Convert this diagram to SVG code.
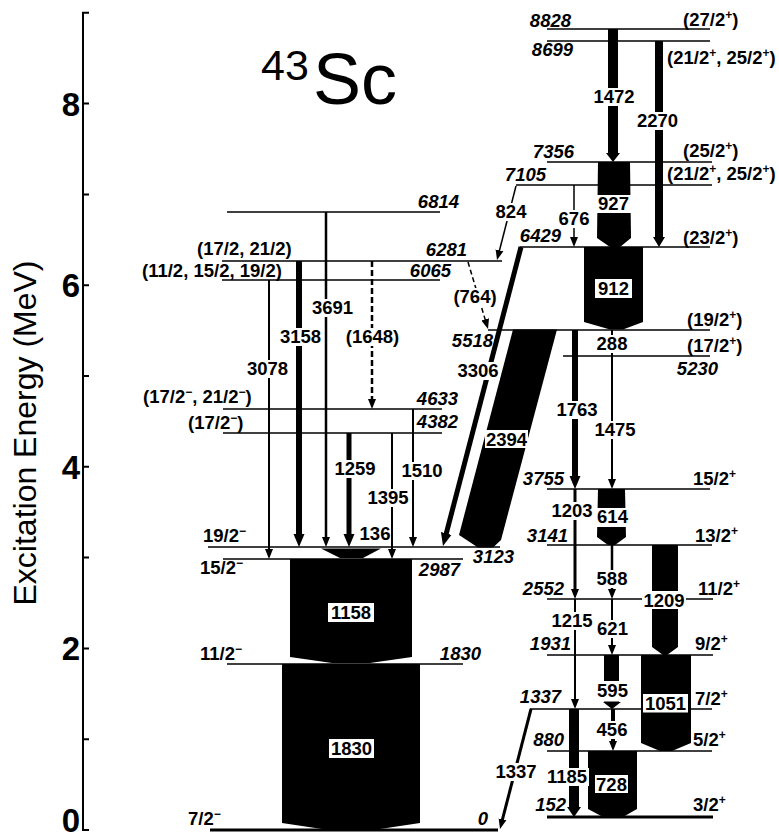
<svg xmlns="http://www.w3.org/2000/svg" width="779" height="840" viewBox="0 0 779 840">
<style>
text{font-family:"Liberation Sans",Arial,Helvetica,sans-serif;font-size:18.5px;font-weight:bold;fill:#000}
.en{font-style:italic;text-anchor:end}
.m{text-anchor:middle}
.sup{font-size:12px}
.lv{stroke:#000;stroke-width:1.5}
.lt{stroke:#000;stroke-width:3}
.t{stroke:#000;fill:none}
.s{marker-end:url(#a)}
.b{marker-end:url(#A)}
.d{stroke-dasharray:6 3}
.bg{fill:#fff}
.band{fill:#000}
.ax{stroke:#000;stroke-width:2;fill:none}
.tk{font-size:33px;text-anchor:end}
.reg{font-weight:normal}
</style>
<defs>
<marker id="a" markerUnits="userSpaceOnUse" viewBox="0 -5 10 10" refX="4" refY="0" markerWidth="10" markerHeight="10" orient="auto"><path d="M0,-4L10,0L0,4z"/></marker>
<marker id="A" markerUnits="userSpaceOnUse" viewBox="0 -6 13 12" refX="5" refY="0" markerWidth="13" markerHeight="12" orient="auto"><path d="M0,-5.5L13,0L0,5.5z"/></marker>
</defs>
<rect width="779" height="840" fill="#fff"/>
<g id="axis">
<path class="ax" d="M89,12.8H83V830H89"/>
<path class="ax" d="M83,739.2H89M83,648.4H89M83,557.6H89M83,466.8H89M83,376H89M83,285.2H89M83,194.4H89M83,103.6H89"/>
<text class="tk" x="80" y="832">0</text>
<text class="tk" x="80" y="660">2</text>
<text class="tk" x="80" y="479">4</text>
<text class="tk" x="80" y="297">6</text>
<text class="tk" x="80" y="116">8</text>
<text transform="translate(36,433) rotate(-90)" class="m reg" style="font-size:32px">Excitation Energy (MeV)</text>
</g>
<g id="title">
<text class="reg" x="261" y="80" style="font-size:43px">43</text>
<text class="reg" x="313" y="104" style="font-size:72px">Sc</text>
</g>
<g id="levels">
<g id="lvl-0"><line class="lt" x1="210" y1="830" x2="498" y2="830"/><text x="188" y="825">7/2<tspan class="sup" dy="-7">−</tspan></text><text class="en" x="488" y="825">0</text></g>
<g id="lvl-1830"><line class="lv" x1="227" y1="664" x2="463" y2="664"/><text x="200" y="660">11/2<tspan class="sup" dy="-7">−</tspan></text><text class="en" x="481" y="660">1830</text></g>
<g id="lvl-2987"><line class="lv" x1="223" y1="559" x2="463" y2="559"/><text x="200" y="574">15/2<tspan class="sup" dy="-7">−</tspan></text><text class="en" x="460" y="576">2987</text></g>
<g id="lvl-3123"><line class="lv" x1="208" y1="547" x2="500" y2="547"/><text x="203" y="542">19/2<tspan class="sup" dy="-7">−</tspan></text><text class="en" x="514" y="563">3123</text></g>
<g id="lvl-4382"><line class="lv" x1="223" y1="433" x2="442" y2="433"/><text x="188" y="429">(17/2<tspan class="sup" dy="-7">−</tspan><tspan dy="7">)</tspan></text><text class="en" x="458" y="428">4382</text></g>
<g id="lvl-4633"><line class="lv" x1="223" y1="409" x2="442" y2="409"/><text x="143" y="403">(17/2<tspan class="sup" dy="-7">−</tspan><tspan dy="7">, 21/2</tspan><tspan class="sup" dy="-7">−</tspan><tspan dy="7">)</tspan></text><text class="en" x="458" y="405">4633</text></g>
<g id="lvl-6065"><line class="lv" x1="222" y1="280" x2="440" y2="280"/><text x="142" y="277">(11/2, 15/2, 19/2)</text><text class="en" x="451" y="277">6065</text></g>
<g id="lvl-6281"><line class="lv" x1="222" y1="261" x2="502" y2="261"/><text x="197" y="255">(17/2, 21/2)</text><text class="en" x="467" y="256">6281</text></g>
<g id="lvl-6814"><line class="lv" x1="227" y1="212" x2="440" y2="212"/><text class="en" x="459" y="208">6814</text></g>
<g id="lvl-8828"><line class="lv" x1="547" y1="29" x2="710" y2="29"/><text class="en" x="571" y="27">8828</text><text x="683" y="26">(27/2<tspan class="sup" dy="-7">+</tspan><tspan dy="7">)</tspan></text></g>
<g id="lvl-8699"><line class="lv" x1="547" y1="41" x2="710" y2="41"/><text class="en" x="573" y="56">8699</text><text x="667" y="64">(21/2<tspan class="sup" dy="-7">+</tspan><tspan dy="7">, 25/2</tspan><tspan class="sup" dy="-7">+</tspan><tspan dy="7">)</tspan></text></g>
<g id="lvl-7356"><line class="lv" x1="547" y1="162" x2="712" y2="162"/><text class="en" x="574" y="158">7356</text><text x="683" y="157">(25/2<tspan class="sup" dy="-7">+</tspan><tspan dy="7">)</tspan></text></g>
<g id="lvl-7105"><line class="lv" x1="516" y1="185" x2="712" y2="185"/><text class="en" x="546" y="181">7105</text><text x="667" y="180">(21/2<tspan class="sup" dy="-7">+</tspan><tspan dy="7">, 25/2</tspan><tspan class="sup" dy="-7">+</tspan><tspan dy="7">)</tspan></text></g>
<g id="lvl-6429"><line class="lv" x1="520" y1="247" x2="710" y2="247"/><text class="en" x="561" y="242">6429</text><text x="683" y="244">(23/2<tspan class="sup" dy="-7">+</tspan><tspan dy="7">)</tspan></text></g>
<g id="lvl-5518"><line class="lv" x1="488" y1="330" x2="710" y2="330"/><text class="en" x="493" y="347">5518</text><text x="687" y="326">(19/2<tspan class="sup" dy="-7">+</tspan><tspan dy="7">)</tspan></text></g>
<g id="lvl-5230"><line class="lv" x1="563" y1="356" x2="710" y2="356"/><text x="687" y="352">(17/2<tspan class="sup" dy="-7">+</tspan><tspan dy="7">)</tspan></text><text class="en" x="718" y="375">5230</text></g>
<g id="lvl-3755"><line class="lv" x1="547" y1="489" x2="710" y2="489"/><text class="en" x="564" y="485">3755</text><text x="693" y="485">15/2<tspan class="sup" dy="-7">+</tspan></text></g>
<g id="lvl-3141"><line class="lv" x1="547" y1="545" x2="712" y2="545"/><text class="en" x="568" y="542">3141</text><text x="695" y="542">13/2<tspan class="sup" dy="-7">+</tspan></text></g>
<g id="lvl-2552"><line class="lv" x1="547" y1="599" x2="713" y2="599"/><text class="en" x="564" y="595">2552</text><text x="698" y="595">11/2<tspan class="sup" dy="-7">+</tspan></text></g>
<g id="lvl-1931"><line class="lv" x1="547" y1="655" x2="713" y2="655"/><text class="en" x="571" y="650">1931</text><text x="695" y="650">9/2<tspan class="sup" dy="-7">+</tspan></text></g>
<g id="lvl-1337"><line class="lv" x1="530" y1="709" x2="712" y2="709"/><text class="en" x="561" y="703">1337</text><text x="695" y="705">7/2<tspan class="sup" dy="-7">+</tspan></text></g>
<g id="lvl-880"><line class="lv" x1="547" y1="751" x2="712" y2="751"/><text class="en" x="564" y="746">880</text><text x="693" y="746">5/2<tspan class="sup" dy="-7">+</tspan></text></g>
<g id="lvl-152"><line class="lt" x1="547" y1="817" x2="713" y2="817"/><text class="en" x="566" y="811">152</text><text x="693" y="811">3/2<tspan class="sup" dy="-7">+</tspan></text></g>
</g>
<g id="connectors">
<g id="g1830"><polygon class="band" points="282,664 420,664 420,823 380,829 322,829 282,823"/><rect class="bg" x="329" y="739" width="45" height="19"/><text class="m" x="351.5" y="755">1830</text></g>
<g id="g1158"><polygon class="band" points="290,559 412,559 412,657 370,663 332,663 290,657"/><rect class="bg" x="328" y="603" width="46" height="19"/><text class="m" x="351" y="619">1158</text></g>
<g id="g136"><polygon class="band" points="321,548.5 381,548.5 363,558 340,558"/><text class="m" x="375" y="540">136</text></g>
<g id="g2394"><polygon class="band" points="513,329.5 557,329.5 501,540 493,547.5 478,547.5 459,535"/><rect class="bg" x="485" y="430" width="43" height="18"/><text class="m" x="506.5" y="446">2394</text></g>
<g id="g3306"><line class="t b" style="stroke-width:5" x1="521" y1="247" x2="445" y2="538.3"/><rect class="bg" x="456" y="362" width="44" height="18"/><text class="m" x="478" y="377">3306</text></g>
<g id="g3078"><line class="t s" style="stroke-width:2" x1="269" y1="280" x2="269" y2="553"/><rect class="bg" x="245.5" y="360" width="44" height="18"/><text class="m" x="267.5" y="375">3078</text></g>
<g id="g3158"><line class="t b" style="stroke-width:6" x1="299" y1="261" x2="299" y2="539"/><rect class="bg" x="278.5" y="328" width="44" height="18"/><text class="m" x="300.5" y="343">3158</text></g>
<g id="g3691"><line class="t s" style="stroke-width:2.5" x1="326" y1="212" x2="326" y2="541"/><rect class="bg" x="310.5" y="299" width="44" height="18"/><text class="m" x="332.5" y="314">3691</text></g>
<g id="g1648"><line class="t s d" style="stroke-width:2.5" x1="372" y1="261" x2="372" y2="403"/><rect class="bg" x="344.5" y="328" width="56" height="18"/><text class="m" x="372.5" y="343">(1648)</text></g>
<g id="g764"><line class="t s" style="stroke-width:1.5;stroke-dasharray:5 3" x1="468" y1="262" x2="486.3" y2="323.3"/><rect class="bg" x="452" y="288" width="46" height="18"/><text class="m" x="475" y="303">(764)</text></g>
<g id="g1259"><line class="t b" style="stroke-width:5" x1="349" y1="433" x2="349" y2="539"/><rect class="bg" x="333" y="460" width="44" height="18"/><text class="m" x="355" y="475">1259</text></g>
<g id="g1395"><line class="t s" style="stroke-width:2" x1="392" y1="433" x2="392" y2="553"/><rect class="bg" x="366" y="489" width="44" height="18"/><text class="m" x="388" y="504">1395</text></g>
<g id="g1510"><line class="t s" style="stroke-width:2" x1="413" y1="409" x2="413" y2="541"/><rect class="bg" x="400" y="462" width="44" height="18"/><text class="m" x="422" y="477">1510</text></g>
<g id="g824"><line class="t s" style="stroke-width:1.5" x1="516" y1="186" x2="498.5" y2="254.2"/><rect class="bg" x="494" y="203" width="34" height="18"/><text class="m" x="511" y="218">824</text></g>
<g id="g1337"><line class="t s" style="stroke-width:3" x1="531" y1="709" x2="501.5" y2="823.2"/><rect class="bg" x="494" y="763" width="44" height="18"/><text class="m" x="516" y="778">1337</text></g>
<g id="g1472"><polygon class="band" points="608,29 618,29 618,153 620,153 613,162 606,153 608,153"/><rect class="bg" x="592" y="88" width="44" height="18"/><text class="m" x="614" y="103">1472</text></g>
<g id="g2270"><polygon class="band" points="655,41 663,41 663,237 665,237 659,247 653,237 655,237"/><rect class="bg" x="635.5" y="112" width="44" height="18"/><text class="m" x="657.5" y="127">2270</text></g>
<g id="g927"><polygon class="band" points="598,162 630,162 631,238 620,247 610,247 597,238"/><rect class="bg" x="595.5" y="195" width="37" height="18"/><text class="m" x="613.5" y="210">927</text></g>
<g id="g676"><line class="t s" style="stroke-width:1.5" x1="574" y1="185" x2="574" y2="241"/><rect class="bg" x="557" y="210" width="34" height="18"/><text class="m" x="574" y="225">676</text></g>
<g id="g912"><polygon class="band" points="584,247 643,247 643,322 623,329.5 610,329.5 584,322"/><rect class="bg" x="595" y="279" width="37" height="19"/><text class="m" x="613.5" y="295">912</text></g>
<g id="g288"><line class="t" style="stroke-width:2" x1="612" y1="330" x2="612" y2="356"/><rect class="bg" x="595" y="335" width="34" height="18"/><text class="m" x="612" y="350">288</text></g>
<g id="g1763"><line class="t b" style="stroke-width:6" x1="575" y1="330" x2="575" y2="481"/><rect class="bg" x="555" y="401" width="44" height="18"/><text class="m" x="577" y="416">1763</text></g>
<g id="g1475"><line class="t s" style="stroke-width:2" x1="612" y1="356" x2="612" y2="483"/><rect class="bg" x="593" y="421" width="44" height="18"/><text class="m" x="615" y="436">1475</text></g>
<g id="g1203"><line class="t s" style="stroke-width:3" x1="575" y1="489" x2="575" y2="593"/><rect class="bg" x="550" y="502" width="44" height="18"/><text class="m" x="572" y="517">1203</text></g>
<g id="g614"><polygon class="band" points="598,489 625,489 626,537 615,545 608,545 597,537"/><rect class="bg" x="595.5" y="508" width="34" height="19"/><text class="m" x="612.5" y="523">614</text></g>
<g id="g588"><line class="t s" style="stroke-width:2.5" x1="612" y1="545" x2="612" y2="593"/><rect class="bg" x="595" y="570" width="34" height="18"/><text class="m" x="612" y="585">588</text></g>
<g id="g1209"><polygon class="band" points="652,545 678,545 678,647 667,655 663,655 652,647"/><rect class="bg" x="642" y="591" width="44" height="18"/><text class="m" x="664" y="607">1209</text></g>
<g id="g1215"><line class="t s" style="stroke-width:2" x1="575" y1="599" x2="575" y2="703"/><rect class="bg" x="550" y="612" width="44" height="18"/><text class="m" x="572" y="627">1215</text></g>
<g id="g621"><line class="t s" style="stroke-width:2" x1="612" y1="599" x2="612" y2="649"/><rect class="bg" x="595.5" y="620" width="34" height="18"/><text class="m" x="612.5" y="635">621</text></g>
<g id="g595"><polygon class="band" points="604,655 619,655 619,702 621,702 612,709 603,702 604,702"/><rect class="bg" x="597" y="681" width="31" height="20.5"/><text class="m" x="612.5" y="697">595</text></g>
<g id="g1051"><polygon class="band" points="641,655 691,655 691,743 672,751 660,751 641,743"/><rect class="bg" x="643" y="694" width="45" height="18.5"/><text class="m" x="665.5" y="710">1051</text></g>
<g id="g456"><line class="t s" style="stroke-width:4" x1="613" y1="709" x2="613" y2="745"/><rect class="bg" x="595" y="721" width="34" height="18"/><text class="m" x="612" y="736">456</text></g>
<g id="g728"><polygon class="band" points="588,751 637,751 637,809 623,817 603,817 588,809"/><rect class="bg" x="595" y="775" width="33" height="18"/><text class="m" x="611.5" y="791">728</text></g>
<g id="g1185"><polygon class="band" points="569,709 579,709 579,807 581,807 574,817 567,807 569,807"/><rect class="bg" x="545" y="768" width="44" height="18"/><text class="m" x="567" y="783">1185</text></g>
</g>
</svg>
